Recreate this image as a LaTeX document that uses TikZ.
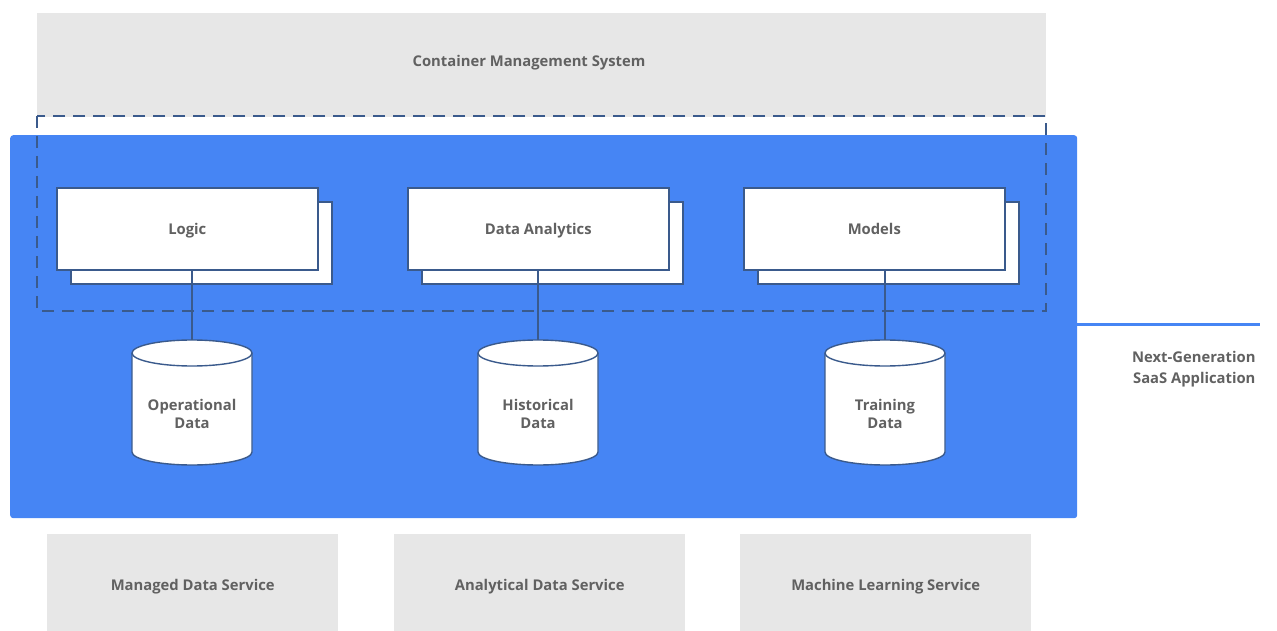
\documentclass[tikz,border=0pt]{standalone}
\usepackage{fontspec}
\setmainfont{Open Sans}
\definecolor{panelblue}{HTML}{4685F4}
\definecolor{darkline}{HTML}{3A5A8C}
\definecolor{lightgray}{HTML}{E7E7E7}
\definecolor{txt}{HTML}{616161}
\tikzset{
  lbl/.style={font=\fontsize{14.8}{18}\selectfont\bfseries, text=txt, align=center},
  graybox/.style={fill=lightgray, draw=none, inner sep=0pt},
  cardfront/.style={draw=darkline, line width=1.6pt, fill=white, inner sep=0pt},
  cardback/.style={draw=darkline, line width=1.6pt, fill=white, inner sep=0pt},
  conn/.style={draw=darkline, line width=1.4pt},
  cylline/.style={draw=darkline, line width=1.4pt, fill=white},
}
\newcommand{\mycyl}[4]{% name, cx, top y, text
  \path[cylline] (#2-60,#3) -- (#2-60,#3+99) arc[start angle=180,end angle=0,x radius=60,y radius=13] -- (#2+60,#3) arc[start angle=360,end angle=180,x radius=60,y radius=13] -- cycle;
  \draw[darkline, line width=1.4pt] (#2-60,#3) arc[start angle=180,end angle=0,x radius=60,y radius=13];
  \coordinate (#1top) at (#2,#3-13);
  \node[lbl] (#1) at (#2,#3+61) {#4};
}
\begin{document}
\begin{tikzpicture}[x=1pt,y=-1pt]
\useasboundingbox (0,0) rectangle (1277,631);
% top gray
\node[graybox, minimum width=1009pt, minimum height=104pt, anchor=north west] (cms) at (37,13) {};
\node[lbl] (cmstext) at (529,62.5) {Container Management System};
% blue panel
\node[fill=panelblue, rounded corners=3pt, minimum width=1067pt, minimum height=383pt, anchor=north west, inner sep=0pt] (panel) at (10,135) {};
% external line
\coordinate (linestart) at (1045,324);
\coordinate (lineend) at (1260,324);
\draw[panelblue, line width=3pt] (linestart) -- (lineend);
\node[lbl, font=\fontsize{14.8}{21}\selectfont\bfseries, align=right, anchor=east] (saas) at (1259,369.5) {Next-Generation\\SaaS Application};
% cards
\foreach \n/\x/\t in {logic/56/Logic, analytics/407/Data Analytics, models/743/Models}{
  \node[cardback, minimum width=261pt, minimum height=82pt, anchor=north west] (\n back) at (\x+14,201) {};
  \node[cardfront, minimum width=261pt, minimum height=82pt, anchor=north west] (\n) at (\x,187) {};
  \node[lbl] (\n text) at ([yshift=-2pt]\n.center) {\t\vphantom{Lg}};
}
% dashed container
\draw[darkline, line width=1.6pt, dash pattern=on 12pt off 8pt] (37,116) rectangle (1046,311);
% cylinders
\mycyl{opdata}{192}{353}{Operational\\Data}
\mycyl{histdata}{538}{353}{Historical\\Data}
\mycyl{traindata}{885}{353}{Training\\Data}
% connectors
\draw[conn] (logic.south -| opdatatop) -- (opdatatop);
\draw[conn] (analytics.south -| histdatatop) -- (histdatatop);
\draw[conn] (models.south -| traindatatop) -- (traindatatop);
% bottom services
\foreach \n/\x/\t in {mds/47/Managed Data Service, ads/394/Analytical Data Service, mls/740/Machine Learning Service}{
  \node[graybox, minimum width=291pt, minimum height=97pt, anchor=north west] (\n) at (\x,534) {};
  \node[lbl] (\n text) at ([yshift=-3.5pt]\n.center) {\t\vphantom{Lg}};
}
\end{tikzpicture}
\end{document}
